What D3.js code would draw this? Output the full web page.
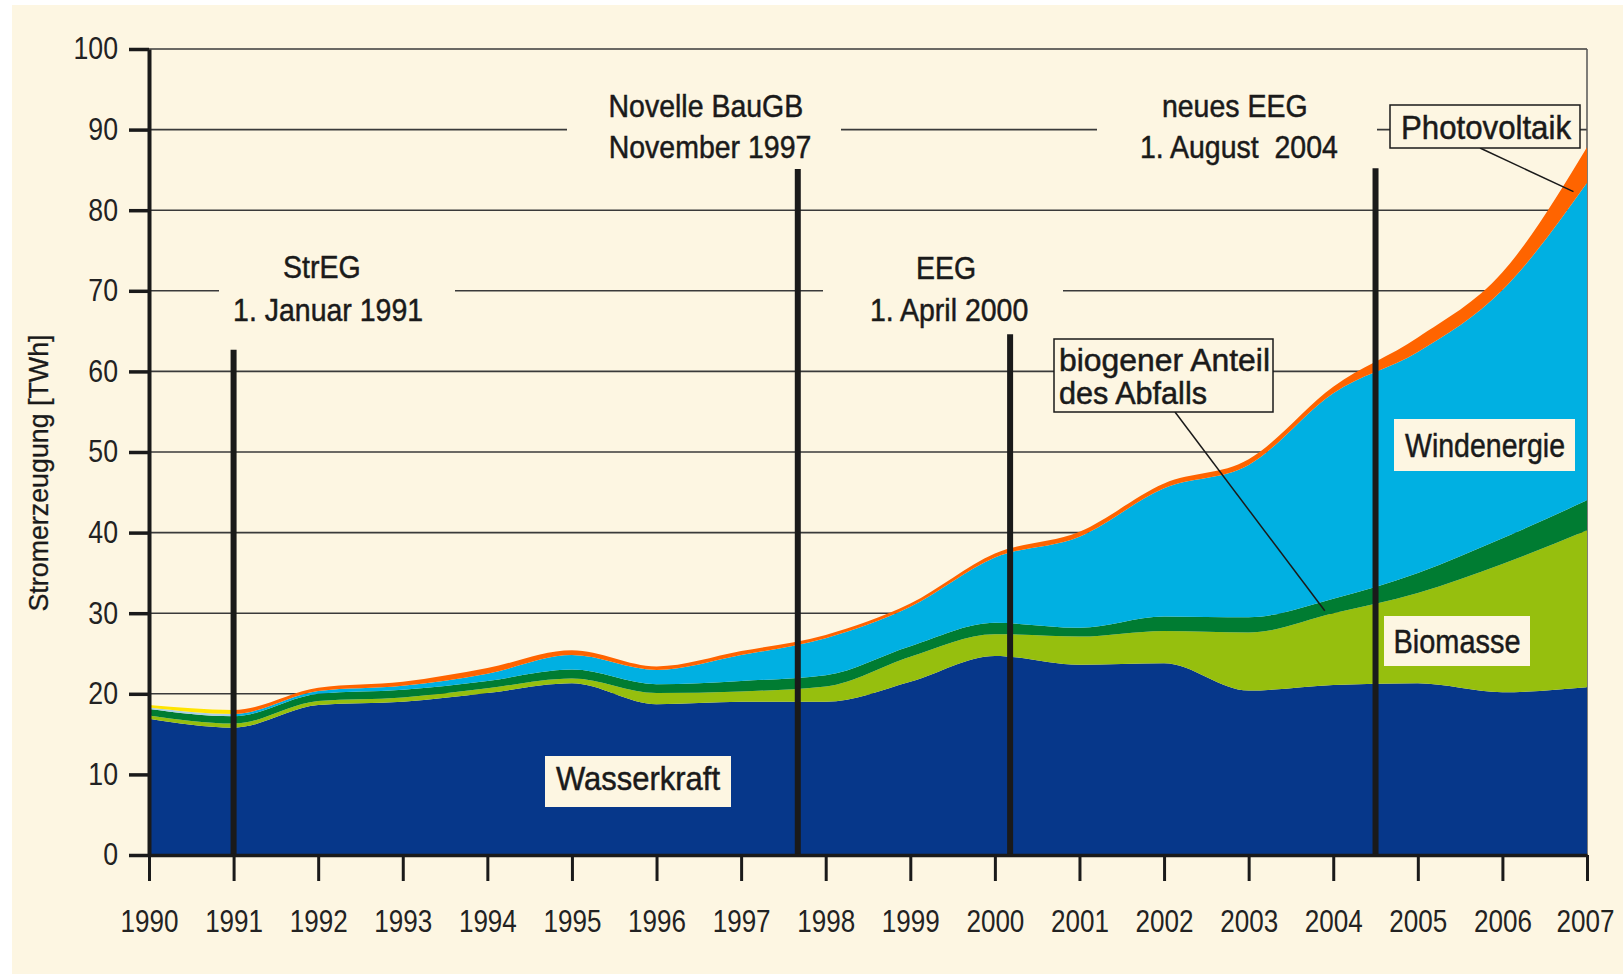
<!DOCTYPE html>
<html>
<head>
<meta charset="utf-8">
<script src="https://cdn.jsdelivr.net/npm/d3@7"></script>
<style>
  body { margin: 0; background: #fff; }
  svg { display: block; }
  .cond { font-family: "Liberation Sans", Arial, sans-serif; fill: #1a1a1a; stroke: #1a1a1a; stroke-width: 0.5px; }
  .axis text { font-family: "Liberation Sans", Arial, sans-serif; font-size: 31px; fill: #222; }
</style>
</head>
<body>
<svg id="chart" width="1623" height="974"></svg>
<script>
// Stromerzeugung aus erneuerbaren Energien in Deutschland [TWh]
var years        = [1990, 1991, 1992, 1993, 1994, 1995, 1996, 1997, 1998, 1999, 2000, 2001, 2002, 2003, 2004, 2005, 2006, 2007];
var wasserkraft  = [16.9, 15.8, 18.6, 19.0, 20.1, 21.3, 18.7, 19.0, 19.0, 21.5, 24.7, 23.6, 23.8, 20.4, 21.1, 21.3, 20.2, 20.8];
var biomasse     = [0.4, 0.5, 0.5, 0.55, 0.6, 0.6, 1.4, 1.3, 1.9, 3.1, 2.7, 3.5, 4.0, 7.2, 8.9, 11.2, 15.9, 19.5];
var abfall       = [0.8, 0.9, 0.9, 0.95, 0.9, 1.1, 1.1, 1.3, 1.4, 1.3, 1.4, 1.1, 1.8, 1.9, 1.8, 2.5, 3.2, 3.7];
var windenergie  = [0.2, 0.3, 0.35, 0.5, 0.9, 1.8, 1.75, 3.2, 4.6, 4.9, 8.1, 11.3, 15.9, 18.9, 25.5, 27.4, 30.8, 39.4];
var photovoltaik = [0.3, 0.5, 0.4, 0.5, 0.7, 0.6, 0.45, 0.5, 0.4, 0.4, 0.5, 0.6, 0.6, 0.7, 0.8, 1.8, 2.2, 4.4];

var yTicks = [0, 10, 20, 30, 40, 50, 60, 70, 80, 90, 100];

// Gesetzesänderungen: Zeitpunkt und Höhe der Markierung
var eventDates  = [1991.0, 1997.67, 2000.18, 2004.5];
var eventTops   = [62.7, 85.1, 64.6, 85.2];
var eventLabels = [["StrEG", "1. Januar 1991"], ["Novelle BauGB", "November 1997"], ["EEG", "1. April 2000"], ["neues EEG", "1. August  2004"]];

var keys = ["wasser", "bio", "abfall", "wind", "pv"];
var colors = { wasser: "#06378a", bio: "#96bf0e", abfall: "#007c32", wind: "url(#gWind)", pv: "url(#gPv)" };

var rows = years.map(function(y, i){
  return { year: y, wasser: wasserkraft[i], bio: biomasse[i], abfall: abfall[i], wind: windenergie[i], pv: photovoltaik[i] };
});

var svg = d3.select("#chart");

var x = d3.scaleLinear().domain([1990, 2007]).range([149, 1587]);
var y = d3.scaleLinear().domain([0, 100]).range([855, 49]);

// squeeze text horizontally (condensed look)
function squeeze(sel, f){
  sel.each(function(){
    var w = this.getComputedTextLength();
    d3.select(this).attr("textLength", w * f).attr("lengthAdjust", "spacingAndGlyphs");
  });
}

// background
svg.append("rect").attr("x", 12).attr("y", 5).attr("width", 1611).attr("height", 969).attr("fill", "#fdf6e2");

// gradients: first year drawn in lighter colours
var defs = svg.append("defs");
var t = (x(1991) - x(1990)) / (x(2007) - x(1990));
function grad(id, c0, c1){
  var g = defs.append("linearGradient").attr("id", id)
    .attr("gradientUnits", "userSpaceOnUse")
    .attr("x1", x(1990)).attr("x2", x(2007)).attr("y1", 0).attr("y2", 0);
  g.append("stop").attr("offset", 0).attr("stop-color", c0);
  g.append("stop").attr("offset", t).attr("stop-color", c0);
  g.append("stop").attr("offset", t).attr("stop-color", c1);
  g.append("stop").attr("offset", 1).attr("stop-color", c1);
}
grad("gPv", "#ffe400", "#ff6400");
grad("gWind", "#a9d0e8", "#00b0e2");

// gridlines
svg.append("g").selectAll("line")
  .data(yTicks.filter(function(d){ return d > 0; }))
  .enter().append("line")
  .attr("x1", x(1990)).attr("x2", x(2007))
  .attr("y1", function(d){ return y(d); }).attr("y2", function(d){ return y(d); })
  .attr("stroke", "#3a3a3a").attr("stroke-width", 1.6);

// right border
svg.append("line").attr("x1", x(2007)).attr("x2", x(2007)).attr("y1", y(100)).attr("y2", y(0))
  .attr("stroke", "#555").attr("stroke-width", 1.5);

// cream patches behind the law annotations (break the gridlines)
var noteBoxes = [[219, 238, 236, 94], [567, 80, 274, 90], [823, 238, 240, 94], [1097, 80, 280, 88]];
svg.append("g").selectAll("rect").data(noteBoxes).enter().append("rect")
  .attr("x", function(d){ return d[0]; }).attr("y", function(d){ return d[1]; })
  .attr("width", function(d){ return d[2]; }).attr("height", function(d){ return d[3]; })
  .attr("fill", "#fdf6e2");

// stacked areas
var stack = d3.stack().keys(keys);
var series = stack(rows);
var area = d3.area()
  .curve(d3.curveMonotoneX)
  .x(function(d){ return x(d.data.year); })
  .y0(function(d){ return y(d[0]); })
  .y1(function(d){ return y(d[1]); });

svg.append("g").selectAll("path").data(series).enter().append("path")
  .attr("d", area)
  .attr("fill", function(d){ return colors[d.key]; });

// event lines
svg.append("g").selectAll("line").data(eventDates).enter().append("line")
  .attr("x1", function(d){ return x(d); }).attr("x2", function(d){ return x(d); })
  .attr("y1", y(0)).attr("y2", function(d, i){ return y(eventTops[i]); })
  .attr("stroke", "#1a1a1a").attr("stroke-width", 6);

// event texts
var notePos = [[[311, 278], [317, 321]], [[682, 117], [686, 158]], [[914, 279], [917, 321]], [[1193, 117], [1197, 158]]];
eventLabels.forEach(function(lines, i){
  lines.forEach(function(s, j){
    svg.append("text").attr("class", "cond")
      .attr("x", notePos[i][j][0] * 1.035).attr("y", notePos[i][j][1])
      .attr("text-anchor", "middle")
      .style("font-size", "32px").style("white-space", "pre")
      .text(s)
      .call(squeeze, 0.89);
  });
});

// series labels
function boxLabel(bx, by, bw, bh, lines, anchor, tx, ty, border, w, fs){
  svg.append("rect").attr("x", bx).attr("y", by).attr("width", bw).attr("height", bh)
    .attr("fill", "#fdf6e2")
    .attr("stroke", border ? "#1a1a1a" : "none").attr("stroke-width", 1.5);
  lines.forEach(function(s, j){
    svg.append("text").attr("class", "cond")
      .attr("x", tx).attr("y", ty + j * 33)
      .attr("text-anchor", anchor)
      .style("font-size", (fs || 34) + "px")
      .attr("textLength", w[j]).attr("lengthAdjust", "spacingAndGlyphs")
      .text(s);
  });
}

// leader lines
svg.append("line").attr("x1", 1480).attr("y1", 148).attr("x2", x(2006.84)).attr("y2", y(82.3))
  .attr("stroke", "#1a1a1a").attr("stroke-width", 1.5);
svg.append("line").attr("x1", 1175).attr("y1", 412).attr("x2", x(2003.9)).attr("y2", y(30.3))
  .attr("stroke", "#1a1a1a").attr("stroke-width", 1.5);

boxLabel(1390, 105, 190, 43, ["Photovoltaik"], "middle", 1486, 139, true, [170]);
boxLabel(1054, 339, 219, 73, ["biogener Anteil", "des Abfalls"], "start", 1059, 371, true, [211, 148], 31);
boxLabel(1394, 419, 181, 52, ["Windenergie"], "middle", 1485, 457, false, [160]);
boxLabel(1384, 616, 146, 50, ["Biomasse"], "middle", 1457, 653, false, [127]);
boxLabel(545, 756, 186, 51, ["Wasserkraft"], "middle", 638, 790, false, [164]);

// axes
var yAxis = d3.axisLeft(y).tickValues(yTicks).tickSize(20).tickSizeOuter(0).tickPadding(11);
var gy = svg.append("g").attr("class", "axis").attr("transform", "translate(" + x(1990) + ",0)").call(yAxis);
gy.select(".domain").attr("stroke", "#1a1a1a").attr("stroke-width", 4);
gy.selectAll(".tick line").attr("stroke", "#1a1a1a").attr("stroke-width", 3.5);
gy.selectAll(".tick text").call(squeeze, 0.86);

var xAxis = d3.axisBottom(x).tickValues(years).tickFormat(d3.format("d")).tickSize(26).tickSizeOuter(0).tickPadding(29);
var gx = svg.append("g").attr("class", "axis").attr("transform", "translate(0," + y(0) + ")").call(xAxis);
gx.select(".domain").attr("stroke", "#1a1a1a").attr("stroke-width", 3.5);
gx.selectAll(".tick line").attr("stroke", "#1a1a1a").attr("stroke-width", 3);
gx.selectAll(".tick text").call(squeeze, 0.84);
// last label sits at the page edge: keep it inside
gx.selectAll(".tick text").filter(function(d){ return d === 2007; })
  .attr("text-anchor", "end").attr("x", 27);
</script>
<script>
// y axis title
d3.select("#chart").append("text").attr("class", "cond")
  .attr("transform", "translate(39,473) rotate(-90)")
  .attr("text-anchor", "middle").attr("dominant-baseline", "central")
  .attr("textLength", 277).attr("lengthAdjust", "spacingAndGlyphs")
  .style("font-size", "27px").style("stroke-width", "0.3px")
  .text("Stromerzeugung [TWh]");
</script>
</body>
</html>
